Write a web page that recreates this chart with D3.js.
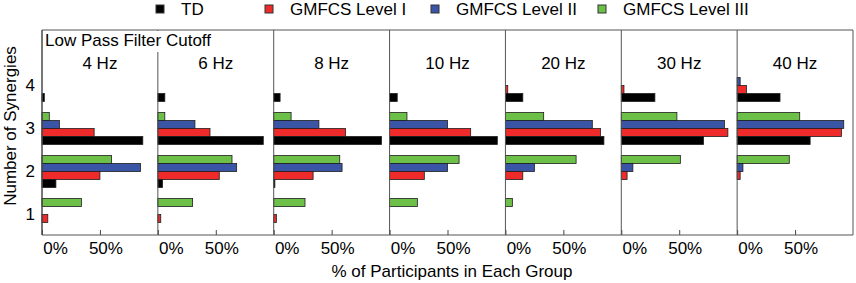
<!DOCTYPE html>
<html>
<head>
<meta charset="utf-8">
<script src="https://cdn.jsdelivr.net/npm/d3@7"></script>
<style>
  body { margin: 0; background: #fff; }
  text { font-family: "Liberation Sans", Arial, sans-serif; fill: #000; }
</style>
</head>
<body>
<svg id="chart"></svg>
<script>
const width = 856, height = 283;

// data: % of participants per synergy count [1, 2, 3, 4] for each cutoff
const cutoffs = ["4 Hz", "6 Hz", "8 Hz", "10 Hz", "20 Hz", "30 Hz", "40 Hz"];
const synergies = [1, 2, 3, 4];
const groups = ["GMFCS Level III", "GMFCS Level II", "GMFCS Level I", "TD"];
const legendOrder = ["TD", "GMFCS Level I", "GMFCS Level II", "GMFCS Level III"];
const colors = {"TD": "#000000", "GMFCS Level I": "#ee2a2a", "GMFCS Level II": "#3a54a6", "GMFCS Level III": "#6cbf47"};

const tdValues = [
  [0, 12, 87, 2], [0, 4, 91, 6], [0, 1, 93, 5.5], [0, 0, 93, 6.6],
  [0, 0, 85, 15], [0, 0, 71, 29], [0, 0, 63, 37]
];
const level1Values = [
  [5, 50, 45, 0], [2.5, 53, 45, 0], [2.3, 34, 62, 0], [0, 30, 70, 0],
  [0, 15, 82, 2], [0, 5, 92, 2.3], [0, 2.6, 90, 8]
];
const level2Values = [
  [0, 85, 15, 0], [0, 68, 32, 0], [0, 59, 39, 0], [0, 50, 50, 0],
  [0, 25, 75, 0], [0, 10, 89, 0], [0, 5, 92, 2.6]
];
const level3Values = [
  [34, 60, 6.3, 0], [30, 64, 6, 0], [27, 57, 15, 0], [24, 60, 15, 0],
  [6, 61, 33, 0], [0, 51, 48, 0], [0, 45, 54, 0]
];
const xTicks = [0, 0.5];

const seriesValues = {
  "TD": tdValues, "GMFCS Level I": level1Values,
  "GMFCS Level II": level2Values, "GMFCS Level III": level3Values
};

const svg = d3.select("#chart").attr("width", width).attr("height", height);

const plotTop = 30, plotBottom = 235, plotLeft = 42, plotRight = 853;
const fontSize = 17;

const panel = d3.scaleBand().domain(cutoffs).range([plotLeft, plotRight]).padding(0);
const x = d3.scaleLinear().domain([0, 1]).range([0, panel.bandwidth()]);
const y = d3.scaleLinear().domain([0.5, 4.5]).range([plotBottom + 1, 64]);
const inner = d3.scaleBand().domain(groups).range([-16, 16]);

// bars
cutoffs.forEach((c, ci) => {
  const g = svg.append("g").attr("transform", `translate(${panel(c)},0)`);
  const rows = [];
  groups.forEach(grp => {
    synergies.forEach((s, si) => {
      const v = seriesValues[grp][ci][si];
      if (v > 0) rows.push({grp, s, v: v / 100});
    });
  });
  g.selectAll("rect")
    .data(rows)
    .enter().append("rect")
    .attr("x", 0)
    .attr("y", d => y(d.s) + inner(d.grp))
    .attr("width", d => x(d.v))
    .attr("height", inner.bandwidth())
    .attr("fill", d => colors[d.grp])
    .attr("stroke", "#1e1e1e")
    .attr("stroke-width", 0.8);

  // bottom axis
  const ax = g.append("g")
    .attr("transform", `translate(0,${plotBottom})`)
    .call(d3.axisBottom(x).tickValues(xTicks).tickSizeInner(-5).tickSizeOuter(0)
      .tickPadding(7).tickFormat(d3.format(".0%")));
  ax.select(".domain").remove();
  ax.selectAll("line").attr("stroke", "#444");
  ax.selectAll("text")
    .attr("font-size", fontSize)
    .attr("font-family", "Liberation Sans, Arial, sans-serif")
    .attr("dx", d => 13 - 15 * d);

  // panel separator
  g.append("line")
    .attr("x1", 0).attr("x2", 0)
    .attr("y1", plotTop).attr("y2", plotBottom)
    .attr("stroke", "#555").attr("stroke-width", 1);

  // panel title
  g.append("text")
    .attr("x", panel.bandwidth() / 2)
    .attr("y", 69)
    .attr("text-anchor", "middle")
    .attr("font-size", fontSize)
    .text(c);
});

// outer frame
svg.append("line").attr("x1", plotLeft).attr("x2", plotRight).attr("y1", plotTop).attr("y2", plotTop)
  .attr("stroke", "#555");
svg.append("line").attr("x1", plotLeft).attr("x2", plotRight).attr("y1", plotBottom).attr("y2", plotBottom)
  .attr("stroke", "#555");
svg.append("line").attr("x1", plotRight).attr("x2", plotRight).attr("y1", plotTop).attr("y2", plotBottom)
  .attr("stroke", "#555");
svg.append("line").attr("x1", plotLeft).attr("x2", plotLeft).attr("y1", plotTop).attr("y2", plotBottom)
  .attr("stroke", "#444");

// title box
svg.append("rect")
  .attr("x", plotLeft + 1).attr("y", plotTop + 1)
  .attr("width", 174).attr("height", 21)
  .attr("fill", "#fff");
svg.append("text")
  .attr("x", plotLeft + 3).attr("y", 46)
  .attr("font-size", fontSize)
  .text("Low Pass Filter Cutoff");

// y axis
const yAxis = svg.append("g")
  .attr("transform", `translate(${plotLeft},0)`)
  .call(d3.axisLeft(y).tickValues(synergies).tickSize(0).tickPadding(7).tickFormat(d3.format("d")));
yAxis.select(".domain").remove();
yAxis.selectAll("text")
  .attr("font-size", fontSize)
  .attr("font-family", "Liberation Sans, Arial, sans-serif");

svg.append("text")
  .attr("transform", "translate(16,126) rotate(-90)")
  .attr("text-anchor", "middle")
  .attr("font-size", fontSize)
  .text("Number of Synergies");

svg.append("text")
  .attr("x", 452)
  .attr("y", 277)
  .attr("text-anchor", "middle")
  .attr("font-size", fontSize)
  .text("% of Participants in Each Group");

// legend
const legendX = [156, 265, 431, 598];
const legend = svg.selectAll(".legend")
  .data(legendOrder)
  .enter().append("g")
  .attr("class", "legend")
  .attr("transform", (d, i) => `translate(${legendX[i]},5)`);
legend.append("rect")
  .attr("width", 8).attr("height", 8)
  .attr("fill", d => colors[d])
  .attr("stroke", "#333");
legend.append("text")
  .attr("x", 25).attr("y", 10)
  .attr("font-size", fontSize)
  .text(d => d);
</script>
</body>
</html>
